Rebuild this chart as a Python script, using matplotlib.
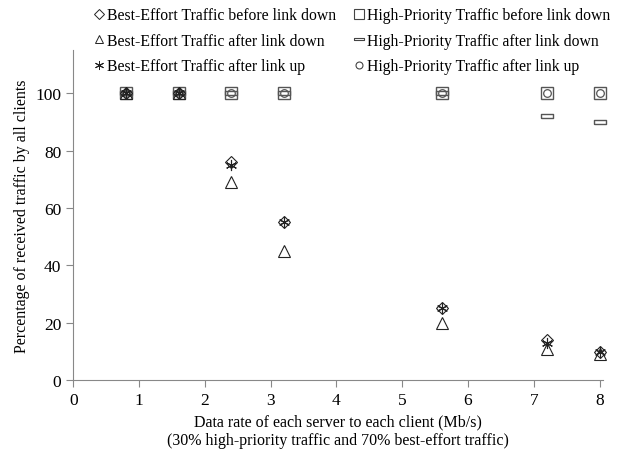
import matplotlib.pyplot as plt
from matplotlib.lines import Line2D

plt.rcParams['font.family'] = ['Liberation Serif', 'DejaVu Serif']

rate = [0.8, 1.6, 2.4, 3.2, 5.6, 7.2, 8.0]

be_before = [100, 100, 76, 55, 25, 14, 10]
be_down = [100, 100, 69, 45, 20, 11, 9]
be_up = [100, 100, 75, 55, 25, 13, 10]
hp_before = [100, 100, 100, 100, 100, 100, 100]
hp_down = [100, 100, 100, 100, 100, 92, 90]
hp_up = [100, 100, 100, 100, 100, 100, 100]

labels = ['Best-Effort Traffic before link down',
          'Best-Effort Traffic after link down',
          'Best-Effort Traffic after link up',
          'High-Priority Traffic before link down',
          'High-Priority Traffic after link down',
          'High-Priority Traffic after link up']

# flat rectangle marker for the "after link down" high-priority series
bar_mark = [(-1, -0.3), (1, -0.3), (1, 0.3), (-1, 0.3), (-1, -0.3)]
asterisk = (6, 2, 0)

fig = plt.figure(figsize=(6.26, 4.56), dpi=100)
ax = fig.add_axes([0.117, 0.164, 0.846, 0.724])

ax.plot(rate, hp_before, ls='none', marker='s', ms=8.5, mfc='none', mec='#555555', mew=1.0, clip_on=False)
ax.plot(rate, hp_down, ls='none', marker=bar_mark, ms=8, mfc='none', mec='#555555', mew=1.0, clip_on=False)
ax.plot(rate, hp_up, ls='none', marker='o', ms=5.5, mfc='none', mec='#555555', mew=0.9, clip_on=False)
ax.plot(rate, be_before, ls='none', marker='D', ms=6.5, mfc='none', mec='#222222', mew=0.8, clip_on=False)
ax.plot(rate, be_down, ls='none', marker='^', ms=8, mfc='none', mec='#222222', mew=0.8, clip_on=False)
ax.plot(rate, be_up, ls='none', marker=asterisk, ms=8, mfc='none', mec='#222222', mew=0.8, clip_on=False)

ax.set_xlim(0, 8.05)
ax.set_ylim(0, 115)
ax.set_xticks(range(0, 9))
ax.set_yticks(range(0, 101, 20))

for s in ['top', 'right']:
    ax.spines[s].set_visible(False)
for s in ['left', 'bottom']:
    ax.spines[s].set_color('#888888')
ax.tick_params(axis='both', colors='#888888', labelcolor='black', labelsize=12.5, length=5)

ax.set_xlabel('Data rate of each server to each client (Mb/s)\n(30% high-priority traffic and 70% best-effort traffic)',
              fontsize=11.5, linespacing=1.2)
ax.set_ylabel('Percentage of received traffic by all clients', fontsize=11.5)

# small legend markers, filled column by column
handles = [
    Line2D([], [], ls='none', marker='D', ms=5, mfc='none', mec='#222222', mew=0.7),
    Line2D([], [], ls='none', marker='^', ms=6, mfc='none', mec='#222222', mew=0.7),
    Line2D([], [], ls='none', marker=asterisk, ms=6.5, mfc='none', mec='#222222', mew=0.7),
    Line2D([], [], ls='none', marker='s', ms=6.5, mfc='none', mec='#444444', mew=0.8),
    Line2D([], [], ls='none', marker=bar_mark, ms=6.5, mfc='none', mec='#444444', mew=0.8),
    Line2D([], [], ls='none', marker='o', ms=5, mfc='none', mec='#444444', mew=0.8),
]
fig.legend(handles, labels, ncol=2, loc='upper left',
           bbox_to_anchor=(93 / 626, 1 - 8 / 456), frameon=False, fontsize=11.3,
           handlelength=0.75, handletextpad=0.15, columnspacing=1.08, labelspacing=0.61,
           borderaxespad=0, borderpad=0)

fig.savefig('out.png', dpi=100)
